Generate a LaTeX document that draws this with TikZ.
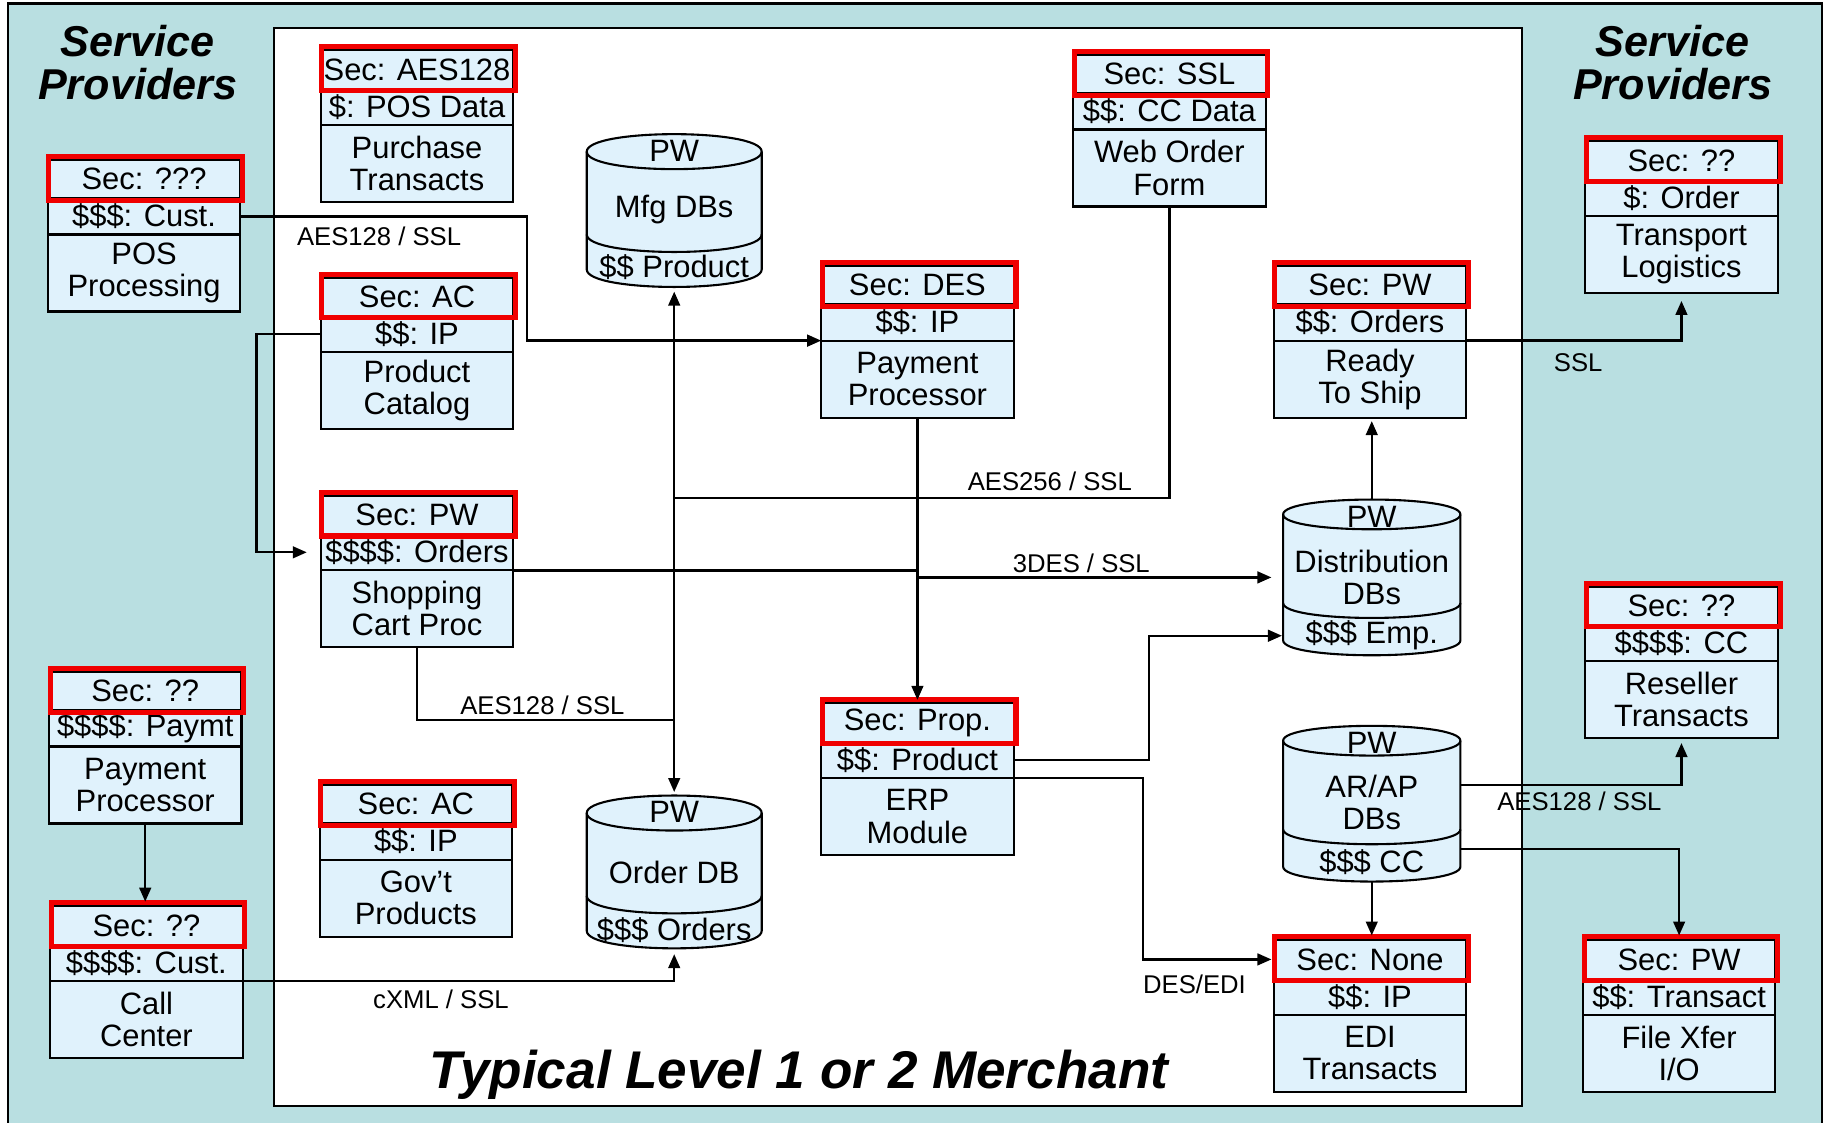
\documentclass[tikz,border=0pt]{standalone}
\usepackage{fontspec}
\setmainfont{Liberation Sans}
\usepackage{xcolor}
\usepackage{tikz}
\usetikzlibrary{arrows.meta, positioning}

\definecolor{spteal}{RGB}{185,223,225}
\definecolor{boxblue}{RGB}{224,242,252}
\definecolor{secred}{RGB}{240,0,0}

\begin{document}
\begin{tikzpicture}[
  x=1pt, y=-1pt,
  boxrow/.style={draw, fill=boxblue, line width=1.8pt, minimum width=165pt, inner sep=0pt, outer sep=0pt, align=center, font=\fontsize{26.5}{27.5}\selectfont},
  secrow/.style={boxrow, minimum height=33pt},
  datarow/.style={boxrow, minimum height=31pt},
  namerow/.style={boxrow, minimum height=66pt},
  secframe/.style={draw=secred, line width=4.3pt},
  dbbody/.style={draw, fill=boxblue, line width=1.8pt},
  dbline/.style={draw, line width=1.8pt},
  dbarea/.style={minimum width=150pt, inner sep=0pt, outer sep=0pt},
  dbtext/.style={inner sep=0pt, align=center, font=\fontsize{26.5}{27.5}\selectfont},
  conn/.style={draw, line width=2pt},
  flowarrow/.style={conn, -{Triangle[length=12pt,width=10pt]}},
  flowlabel/.style={inner sep=0pt, font=\fontsize{22}{22}\selectfont},
  sptitle/.style={align=center, font=\fontsize{37}{37}\selectfont\bfseries\itshape},
  merchtitle/.style={font=\fontsize{45.5}{46}\selectfont\bfseries\itshape}
]
  \useasboundingbox (0,0) rectangle (1568,962);

  % Service provider band and merchant area
  \fill[spteal] (7,3) rectangle (1562,964);
  \draw[line width=1.8pt] (7,3) rectangle (1562,964);
  \filldraw[fill=white, line width=1.8pt] (235,24) rectangle (1305,948);

  \node[sptitle] (spleft) at (118,53.5) {Service\\Providers};
  \node[sptitle] (spright) at (1434,53.5) {Service\\Providers};
  \node[merchtitle] (merchant) at (685,921) {Typical Level 1 or 2 Merchant};

  % POS processing
  \node[secrow, anchor=north west] (possec) at (41,137) {Sec: ???};
  \node[datarow, below=0pt of possec] (posdata) {\$\$\$: Cust.};
  \node[namerow, below=0pt of posdata] (posname) {POS\\Processing};

  % Payment processor (provider)
  \node[secrow, anchor=north west] (spaysec) at (42,576) {Sec: ??};
  \node[datarow, below=0pt of spaysec] (spaydata) {\$\$\$\$: Paymt};
  \node[namerow, below=0pt of spaydata] (spayname) {Payment\\Processor};

  % Call center
  \node[secrow, anchor=north west] (callsec) at (43,777) {Sec: ??};
  \node[datarow, below=0pt of callsec] (calldata) {\$\$\$\$: Cust.};
  \node[namerow, below=0pt of calldata] (callname) {Call\\Center};

  % Purchase transacts
  \node[secrow, anchor=north west] (pursec) at (275,43) {Sec: AES128};
  \node[datarow, below=0pt of pursec] (purdata) {\$: POS Data};
  \node[namerow, below=0pt of purdata] (purname) {Purchase\\Transacts};

  % Product catalog
  \node[secrow, anchor=north west] (catsec) at (275,238) {Sec: AC};
  \node[datarow, below=0pt of catsec] (catdata) {\$\$: IP};
  \node[namerow, below=0pt of catdata] (catname) {Product\\Catalog};

  % Shopping cart
  \node[secrow, anchor=north west] (cartsec) at (275,425) {Sec: PW};
  \node[datarow, below=0pt of cartsec] (cartdata) {\$\$\$\$: Orders};
  \node[namerow, below=0pt of cartdata] (cartname) {Shopping\\Cart Proc};

  % Gov't products
  \node[secrow, anchor=north west] (govsec) at (274,673) {Sec: AC};
  \node[datarow, below=0pt of govsec] (govdata) {\$\$: IP};
  \node[namerow, below=0pt of govdata] (govname) {Gov’t\\Products};

  % Web order form
  \node[secrow, anchor=north west] (websec) at (920,47) {Sec: SSL};
  \node[datarow, below=0pt of websec] (webdata) {\$\$: CC Data};
  \node[namerow, below=0pt of webdata] (webname) {Web Order\\Form};

  % Payment processor (merchant)
  \node[secrow, anchor=north west] (paysec) at (704,228) {Sec: DES};
  \node[datarow, below=0pt of paysec] (paydata) {\$\$: IP};
  \node[namerow, below=0pt of paydata] (payname) {Payment\\Processor};

  % ERP module
  \node[secrow, anchor=north west] (erpsec) at (704,603) {Sec: Prop.};
  \node[datarow, below=0pt of erpsec] (erpdata) {\$\$: Product};
  \node[namerow, below=0pt of erpdata] (erpname) {ERP\\Module};

  % Ready to ship
  \node[secrow, anchor=north west] (shipsec) at (1092,228) {Sec: PW};
  \node[datarow, below=0pt of shipsec] (shipdata) {\$\$: Orders};
  \node[namerow, below=0pt of shipdata] (shipname) {Ready\\To Ship};

  % EDI transacts
  \node[secrow, anchor=north west] (edisec) at (1092,806) {Sec: None};
  \node[datarow, below=0pt of edisec] (edidata) {\$\$: IP};
  \node[namerow, below=0pt of edidata] (ediname) {EDI\\Transacts};

  % Transport logistics
  \node[secrow, anchor=north west] (transsec) at (1359,121) {Sec: ??};
  \node[datarow, below=0pt of transsec] (transdata) {\$: Order};
  \node[namerow, below=0pt of transdata] (transname) {Transport\\Logistics};

  % Reseller transacts
  \node[secrow, anchor=north west] (reselsec) at (1359,503) {Sec: ??};
  \node[datarow, below=0pt of reselsec] (reseldata) {\$\$\$\$: CC};
  \node[namerow, below=0pt of reseldata] (reselname) {Reseller\\Transacts};

  % File transfer
  \node[secrow, anchor=north west] (xfersec) at (1357,806) {Sec: PW};
  \node[datarow, below=0pt of xfersec] (xferdata) {\$\$: Transact};
  \node[namerow, below=0pt of xferdata] (xfername) {File Xfer\\I/O};

  % Mfg DBs
  \filldraw[dbbody] (503,130) .. controls (503,110) and (653,110) .. (653,130) -- (653,231) .. controls (653,251) and (503,251) .. (503,231) -- cycle;
  \draw[dbline] (503,130) .. controls (503,150) and (653,150) .. (653,130);
  \draw[dbline] (503,201) .. controls (503,221) and (653,221) .. (653,201);
  \node[dbarea, minimum height=131pt] (mfgdb) at (578,180.5) {};
  \node[dbtext] (mfgpw) at (578,129) {PW};
  \node[dbtext] (mfgname) at (578,180) {Mfg DBs};
  \node[dbtext] (mfgdata) at (578,229) {\$\$ Product};

  % Order DB
  \filldraw[dbbody] (503,697) .. controls (503,677) and (653,677) .. (653,697) -- (653,798) .. controls (653,818) and (503,818) .. (503,798) -- cycle;
  \draw[dbline] (503,697) .. controls (503,717) and (653,717) .. (653,697);
  \draw[dbline] (503,768) .. controls (503,788) and (653,788) .. (653,768);
  \node[dbarea, minimum height=131pt] (orderdb) at (578,747.5) {};
  \node[dbtext] (orderpw) at (578,696) {PW};
  \node[dbtext] (ordername) at (578,748) {Order DB};
  \node[dbtext] (orderdata) at (578,797) {\$\$\$ Orders};

  % Distribution DBs
  \filldraw[dbbody] (1100,441) .. controls (1100,424) and (1252,424) .. (1252,441) -- (1252,549) .. controls (1252,566) and (1100,566) .. (1100,549) -- cycle;
  \draw[dbline] (1100,441) .. controls (1100,458) and (1252,458) .. (1252,441);
  \draw[dbline] (1100,517) .. controls (1100,534) and (1252,534) .. (1252,517);
  \node[dbarea, minimum width=152pt, minimum height=134pt] (distdb) at (1176,495) {};
  \node[dbtext] (distpw) at (1176,443) {PW};
  \node[dbtext] (distname) at (1176,495) {Distribution\\DBs};
  \node[dbtext] (distemp) at (1176,545) {\$\$\$ Emp.};

  % AR/AP DBs
  \filldraw[dbbody] (1100,635) .. controls (1100,618) and (1252,618) .. (1252,635) -- (1252,743) .. controls (1252,760) and (1100,760) .. (1100,743) -- cycle;
  \draw[dbline] (1100,635) .. controls (1100,652) and (1252,652) .. (1252,635);
  \draw[dbline] (1100,711) .. controls (1100,728) and (1252,728) .. (1252,711);
  \node[dbarea, minimum width=152pt, minimum height=134pt] (arapdb) at (1176,689) {};
  \node[dbtext] (arappw) at (1176,637) {PW};
  \node[dbtext] (arapname) at (1176,688) {AR/AP\\DBs};
  \node[dbtext] (arapcc) at (1176,739) {\$\$\$ CC};

  % Sec highlights
  \foreach \n in {pos,spay,call,pur,cat,cart,gov,web,pay,erp,ship,edi,trans,resel,xfer}
    \draw[secframe] ([shift={(1,-3)}]\n sec.north west) rectangle ([shift={(2,1.5)}]\n sec.south east);

  % Connectors
  \coordinate (webjoin) at (578,427);
  \draw[flowarrow] (posdata.east) -- ++(246,0) |- (payname.north west);
  \draw[flowarrow, shorten >=12pt] (catdata.west) -- ++(-55,0) |- (cartdata.west);
  \draw[conn] (webname.south) |- (webjoin);
  \draw[flowarrow, shorten >=4pt] (webjoin) -- (mfgdb.south);
  \draw[flowarrow, shorten >=3pt] (webjoin) -- (orderdb.north);
  \draw[conn] (cartname.south) -- ++(0,62) -| (webjoin);
  \draw[flowarrow, shorten >=3pt] (payname.south) -- (erpsec.north);
  \draw[flowarrow, shorten >=10pt] (cartname.north east) -| (payname.south |- distdb.west) -- (distdb.west);
  \draw[flowarrow, shorten >=1pt] (erpdata.east) -- ++(116,0) |- (distdb.west |- distemp);
  \draw[flowarrow, shorten >=2pt] (erpname.north east) -- ++(111,0) |- (edisec.west);
  \draw[flowarrow, shorten >=3pt] (distdb.north) -- (distdb.north |- shipname.south);
  \draw[flowarrow, shorten >=7pt] (shipname.north east) -| (transname.south);
  \draw[flowarrow, shorten >=4pt] ([yshift=16pt]arapdb.east) -| (reselname.south);
  \draw[flowarrow, shorten >=4pt] ([yshift=-39pt]arapdb.east) -| (xfersec.north);
  \draw[flowarrow, shorten >=4pt] (arapdb.south) -- (arapdb.south |- edisec.north);
  \draw[flowarrow, shorten >=4pt] (spayname.south) -- (spayname.south |- callsec.north);
  \draw[flowarrow, shorten >=5pt] (callname.north east) -| (orderdb.south);

  % Connector labels
  \node[flowlabel] (lblpos) at (325,203) {AES128 / SSL};
  \node[flowlabel] (lblweb) at (900,413) {AES256 / SSL};
  \node[flowlabel] (lbldist) at (927,483) {3DES / SSL};
  \node[flowlabel] (lblcart) at (465,605) {AES128 / SSL};
  \node[flowlabel] (lblship) at (1353,311) {SSL};
  \node[flowlabel] (lblresel) at (1354,687) {AES128 / SSL};
  \node[flowlabel] (lbledi) at (1024,844) {DES/EDI};
  \node[flowlabel] (lblcall) at (378,857) {cXML / SSL};
\end{tikzpicture}
\end{document}
